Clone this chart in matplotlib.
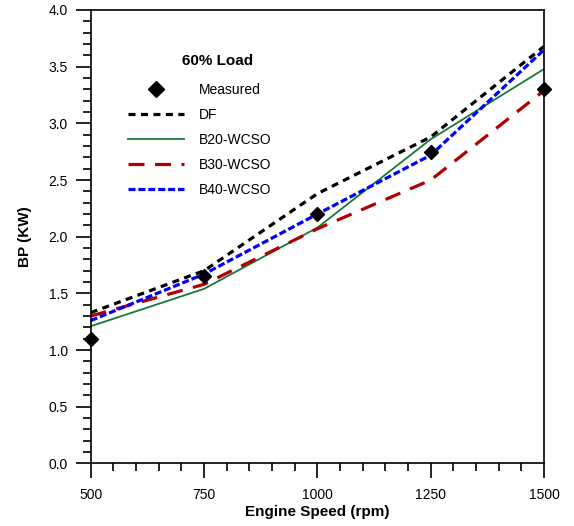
import numpy as np
import matplotlib
matplotlib.use("Agg")
import matplotlib.pyplot as plt
from matplotlib.ticker import MultipleLocator

plt.rcParams["font.family"] = ["Liberation Sans", "DejaVu Sans"]
plt.rcParams["font.size"] = 10

speed = [500, 750, 1000, 1250, 1500]
measured = [1.10, 1.65, 2.20, 2.75, 3.30]
df = [1.33, 1.70, 2.38, 2.88, 3.68]
b20 = [1.21, 1.54, 2.08, 2.86, 3.48]
b30 = [1.30, 1.58, 2.07, 2.50, 3.29]
b40 = [1.26, 1.67, 2.20, 2.72, 3.65]

fig = plt.figure(figsize=(5.74, 5.26), dpi=100)
ax = fig.add_axes([0.158, 0.119, 0.790, 0.862])

ax.plot(speed, measured, linestyle="none", marker="D", color="black",
        markersize=7.5, label="Measured", zorder=5, clip_on=False)
ax.plot(speed, df, color="black", lw=2.3, linestyle=(0, (2.2, 1.7)), label="DF")
ax.plot(speed, b20, color="#17783a", lw=1.3, label="B20-WCSO")
ax.plot(speed, b30, color="#b00000", lw=2.3, linestyle=(0, (5, 3.3)), label="B30-WCSO")
ax.plot(speed, b40, color="#0000ff", lw=2.3, linestyle=(0, (2.2, 0.9)), label="B40-WCSO")

ax.set_xlim(500, 1500)
ax.set_ylim(0, 4.0)
ax.xaxis.set_major_locator(MultipleLocator(250))
ax.xaxis.set_minor_locator(MultipleLocator(50))
ax.yaxis.set_major_locator(MultipleLocator(0.5))
ax.yaxis.set_minor_locator(MultipleLocator(0.1))
ax.yaxis.set_major_formatter(plt.FormatStrFormatter("%.1f"))

ax.tick_params(which="major", direction="out", length=11, width=1.2, labelsize=10)
ax.tick_params(which="minor", direction="out", length=5.5, width=1.2)
ax.tick_params(axis="x", which="major", pad=7)
ax.tick_params(axis="y", which="major", pad=5.5)
for s in ax.spines.values():
    s.set_linewidth(1.2)

ax.set_xlabel("Engine Speed (rpm)", fontsize=11, fontweight="bold", labelpad=2)
ax.set_ylabel("BP (KW)", fontsize=11, fontweight="bold", labelpad=12)

ax.text(0.28, 0.887, "60% Load", transform=ax.transAxes, ha="center", va="center",
        fontsize=11, fontweight="bold")
leg = ax.legend(loc="upper left", bbox_to_anchor=(0.07, 0.852), frameon=False,
                handlelength=4.0, handletextpad=1.1, labelspacing=0.8, fontsize=10,
                borderaxespad=0, markerscale=1.15)

fig.savefig("out.png", dpi=100)
